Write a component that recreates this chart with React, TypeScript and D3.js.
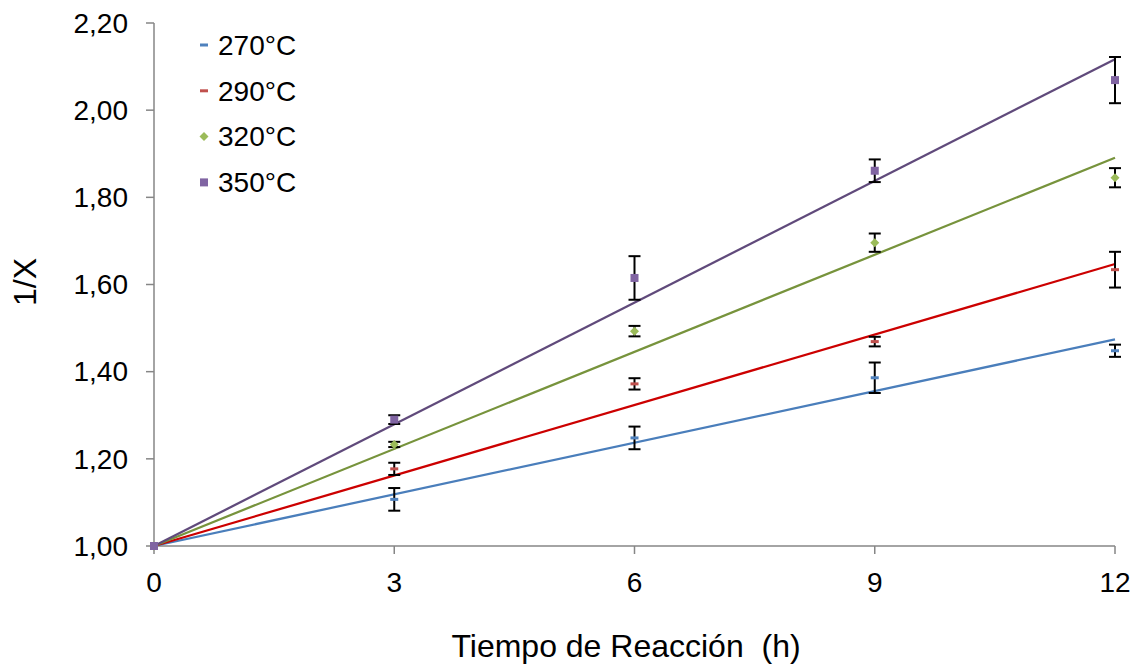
import React from "react";
import * as d3 from "d3";

const hours = [0, 3, 6, 9, 12];
const seriesNames = ["270°C", "290°C", "320°C", "350°C"];
const values270 = [1.0, 1.107, 1.248, 1.386, 1.448];
const values290 = [1.0, 1.177, 1.372, 1.469, 1.634];
const values320 = [1.0, 1.233, 1.493, 1.696, 1.845];
const values350 = [1.0, 1.29, 1.615, 1.861, 2.069];
const errors270 = [0, 0.026, 0.026, 0.035, 0.014];
const errors290 = [0, 0.014, 0.013, 0.011, 0.041];
const errors320 = [0, 0.006, 0.012, 0.021, 0.022];
const errors350 = [0, 0.01, 0.05, 0.026, 0.053];
// trendline fitted values (intercept 1 at t=0, value at t=12)
const trendStart = [1.0, 1.0, 1.0, 1.0];
const trendEnd = [1.474, 1.647, 1.891, 2.117];
const yTicks = [1.0, 1.2, 1.4, 1.6, 1.8, 2.0, 2.2];
const xTicks = [0, 3, 6, 9, 12];

const markerColors = ["#4F81BD", "#C0504D", "#9BBB59", "#8064A2"];
const lineColors = ["#4A7EBB", "#CC0000", "#77933C", "#604A7B"];
const markerShapes = ["dash", "dash", "diamond", "square"];

const W = 1145, H = 669;
const FONT = "'Liberation Sans', Arial, sans-serif";

function Marker({ x, y, shape, color }: { x: number; y: number; shape: string; color: string }) {
  if (shape === "dash") return <rect x={x - 4} y={y - 1.5} width={8} height={3} fill={color} />;
  if (shape === "diamond")
    return <path d={`M${x},${y - 4.5}L${x + 4.5},${y}L${x},${y + 4.5}L${x - 4.5},${y}Z`} fill={color} />;
  return <rect x={x - 4} y={y - 4} width={8} height={8} fill={color} />;
}

export default function App() {
  const x = d3.scaleLinear().domain([0, 12]).range([154, 1115]);
  const y = d3.scaleLinear().domain([1.0, 2.2]).range([546, 23]);
  const allValues = [values270, values290, values320, values350];
  const allErrors = [errors270, errors290, errors320, errors350];
  const fmt = (v: number) => v.toFixed(2).replace(".", ",");
  const line = d3.line<[number, number]>().x((d) => x(d[0])).y((d) => y(d[1]));

  return (
    <svg width={W} height={H} style={{ position: "absolute", left: 0, top: 0, background: "#fff" }} fontFamily={FONT}>
      {/* axes */}
      <line x1={x(0)} y1={y(2.2)} x2={x(0)} y2={y(1.0)} stroke="#868686" strokeWidth={1.5} />
      <line x1={x(0)} y1={y(1.0)} x2={x(12)} y2={y(1.0)} stroke="#868686" strokeWidth={1.5} />
      {yTicks.map((t) => (
        <g key={"y" + t}>
          <line x1={x(0) - 8} x2={x(0)} y1={y(t)} y2={y(t)} stroke="#868686" strokeWidth={1.5} />
          <text x={128} y={y(t)} dy="0.35em" textAnchor="end" fontSize={28} fill="#000">
            {fmt(t)}
          </text>
        </g>
      ))}
      {xTicks.map((t) => (
        <g key={"x" + t}>
          <line x1={x(t)} x2={x(t)} y1={y(1.0)} y2={y(1.0) + 8} stroke="#868686" strokeWidth={1.5} />
          <text x={x(t)} y={592} textAnchor="middle" fontSize={28} fill="#000">
            {t}
          </text>
        </g>
      ))}
      <text x={626} y={657} textAnchor="middle" fontSize={32} fill="#000" style={{ whiteSpace: "pre" }}>
        {"Tiempo de Reacción\u00A0 (h)"}
      </text>
      <text transform={`translate(36,282) rotate(-90)`} textAnchor="middle" fontSize={32} fill="#000">
        1/X
      </text>

      {/* trendlines */}
      {seriesNames.map((n, i) => (
        <path
          key={"t" + n}
          d={line([[0, trendStart[i]], [12, trendEnd[i]]]) || ""}
          stroke={lineColors[i]}
          strokeWidth={2.25}
          fill="none"
        />
      ))}

      {/* error bars */}
      {seriesNames.map((n, i) => (
        <g key={"e" + n} stroke="#000" strokeWidth={2}>
          {hours.map((h, j) => {
            const e = allErrors[i][j];
            if (!e) return null;
            const cx = x(h);
            const y1 = y(allValues[i][j] + e);
            const y2 = y(allValues[i][j] - e);
            return (
              <g key={j}>
                <line x1={cx} x2={cx} y1={y1} y2={y2} />
                <line x1={cx - 6} x2={cx + 6} y1={y1} y2={y1} />
                <line x1={cx - 6} x2={cx + 6} y1={y2} y2={y2} />
              </g>
            );
          })}
        </g>
      ))}

      {/* markers */}
      {seriesNames.map((n, i) => (
        <g key={"m" + n}>
          {hours.map((h, j) => (
            <Marker key={j} x={x(h)} y={y(allValues[i][j])} shape={markerShapes[i]} color={markerColors[i]} />
          ))}
        </g>
      ))}

      {/* legend */}
      {seriesNames.map((n, i) => {
        const ly = 45 + i * 45.8;
        return (
          <g key={"l" + n}>
            <Marker x={204} y={ly} shape={markerShapes[i]} color={markerColors[i]} />
            <text x={218} y={ly} dy="0.35em" fontSize={28} fill="#000">
              {n}
            </text>
          </g>
        );
      })}
    </svg>
  );
}
